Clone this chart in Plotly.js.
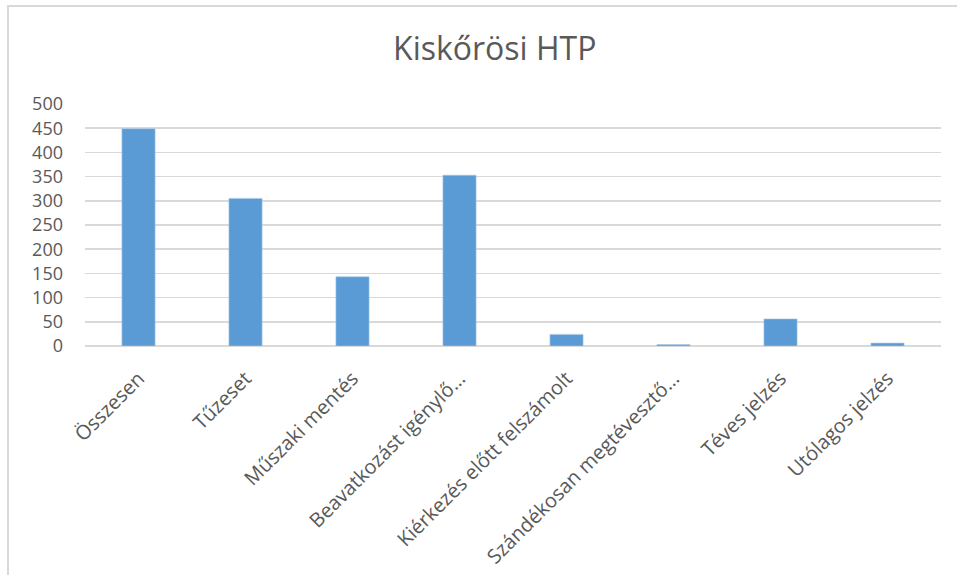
<!DOCTYPE html>
<html>
<head>
<meta charset="utf-8">
<script src="https://cdn.plot.ly/plotly-3.0.1.min.js"></script>
<style>
html,body{margin:0;padding:0;background:#fff;}
#chart{width:957px;height:575px;position:relative;}
#frame{position:absolute;left:7px;top:5px;width:960px;height:580px;border-left:2px solid #d9d9d9;border-top:2px solid #d9d9d9;pointer-events:none;}
</style>
</head>
<body>
<div id="chart"></div>
<div id="frame"></div>
<script>
const categories = ["Összesen", "Tűzeset", "Műszaki mentés", "Beavatkozást igénylő…", "Kiérkezés előtt felszámolt", "Szándékosan megtévesztő…", "Téves jelzés", "Utólagos jelzés"];
const values = [449, 305, 143, 353, 24, 3, 56, 6];
const yTicks = [0, 50, 100, 150, 200, 250, 300, 350, 400, 450, 500];
const chartTitle = "Kiskőrösi HTP";

const font = "'Open Sans', 'Noto Sans', sans-serif";
const trace = {
  type: "bar",
  x: categories,
  y: values,
  marker: {color: "#5b9bd5", line: {color: "#a9c9ea", width: 0.6}},
  hoverinfo: "x+y"
};
const layout = {
  width: 957, height: 575,
  margin: {l: 85, r: 16, t: 104, b: 229, pad: 0},
  paper_bgcolor: "#ffffff", plot_bgcolor: "#ffffff",
  font: {family: font, color: "#595959"},
  title: {text: chartTitle, font: {family: font, size: 32, color: "#595959"}, x: 0.517, xref: "container", xanchor: "center", y: 0.915, yref: "container", yanchor: "middle"},
  bargap: 0.69,
  showlegend: false,
  xaxis: {
    type: "category",
    tickangle: -45,
    tickfont: {family: font, size: 20, color: "#595959"},
    showgrid: false, showline: false, zeroline: false, ticks: "",
    ticklabelstandoff: 16
  },
  yaxis: {
    range: [0, 500],
    tickvals: yTicks,
    ticktext: yTicks.map(String),
    tickfont: {family: font, size: 18, color: "#595959"},
    showgrid: true, gridcolor: "#d9d9d9", gridwidth: 1.5,
    zeroline: true, zerolinecolor: "#d9d9d9", zerolinewidth: 1.5,
    showline: false, ticks: "",
    ticklabelstandoff: 21
  }
};
Plotly.newPlot("chart", [trace], layout, {displayModeBar: false, staticPlot: true});
</script>
</body>
</html>
